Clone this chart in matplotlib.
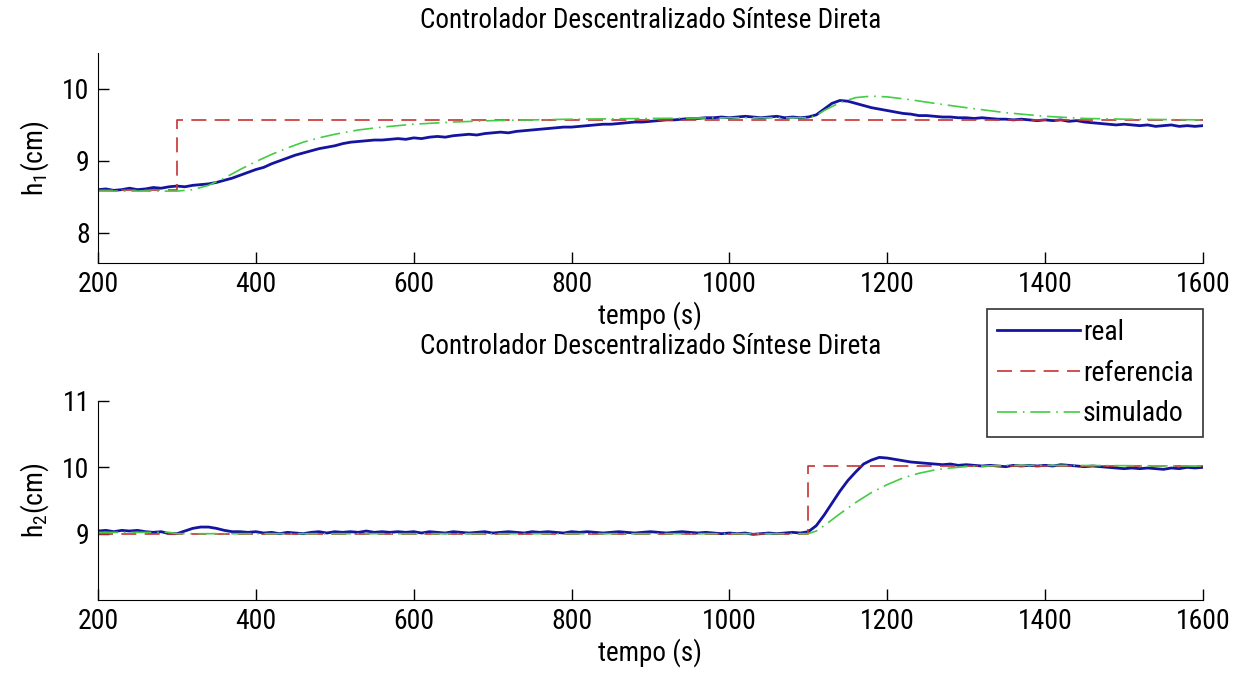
import numpy as np
import matplotlib
matplotlib.use("Agg")
import matplotlib.pyplot as plt
from matplotlib import font_manager

## fonte estreita se existir, senao Liberation Sans (metricas de Arial)
instaladas = {f.name for f in font_manager.fontManager.ttflist}
fonte = 'Liberation Sans'
for nome in ['Liberation Sans Narrow', 'Roboto Condensed', 'Open Sans Condensed']:
    if nome in instaladas:
        fonte = nome
        break
estreita = fonte != 'Liberation Sans'

plt.rcParams['font.family'] = [fonte, 'DejaVu Sans']
plt.rcParams['mathtext.fontset'] = 'custom'
plt.rcParams['mathtext.rm'] = fonte

titulo = "Controlador Descentralizado Síntese Direta"

## tempo das medidas (s), uma a cada 10 s
t_real = np.arange(200, 1601, 10)

## ---- tanque 1 ----
h1_real = [8.60, 8.61, 8.59, 8.60, 8.62, 8.60, 8.61, 8.63, 8.62, 8.64,
           8.65, 8.64, 8.66, 8.67, 8.68, 8.70, 8.73, 8.76, 8.80, 8.84,
           8.88, 8.91, 8.96, 9.00, 9.04, 9.08, 9.11, 9.14, 9.17, 9.19,
           9.21, 9.24, 9.26, 9.27, 9.28, 9.29, 9.29, 9.30, 9.31, 9.30,
           9.32, 9.31, 9.33, 9.34, 9.33, 9.35, 9.36, 9.37, 9.36, 9.38,
           9.39, 9.40, 9.39, 9.41, 9.42, 9.43, 9.44, 9.45, 9.46, 9.47,
           9.47, 9.48, 9.49, 9.50, 9.51, 9.51, 9.52, 9.53, 9.54, 9.54,
           9.55, 9.56, 9.57, 9.57, 9.58, 9.59, 9.59, 9.60, 9.60, 9.61,
           9.60, 9.61, 9.62, 9.61, 9.60, 9.61, 9.62, 9.60, 9.61, 9.60,
           9.61, 9.64, 9.72, 9.80, 9.84, 9.83, 9.80, 9.77, 9.74, 9.72,
           9.70, 9.68, 9.66, 9.65, 9.63, 9.63, 9.62, 9.61, 9.61, 9.60,
           9.60, 9.59, 9.60, 9.59, 9.58, 9.58, 9.57, 9.58, 9.57, 9.56,
           9.57, 9.56, 9.57, 9.55, 9.56, 9.54, 9.53, 9.52, 9.51, 9.50,
           9.51, 9.50, 9.49, 9.50, 9.48, 9.49, 9.50, 9.48, 9.49, 9.48,
           9.49]

t1_sim = [200, 300, 320, 340, 360, 380, 400, 420, 440, 460, 480, 500, 530, 560,
          600, 650, 700, 800, 900, 1000, 1100, 1110, 1120, 1140, 1160, 1180,
          1200, 1230, 1260, 1300, 1350, 1400, 1450, 1500, 1600]
h1_sim = [8.58, 8.58, 8.60, 8.66, 8.76, 8.88, 8.99, 9.09, 9.18, 9.26, 9.32, 9.37, 9.43, 9.47,
          9.51, 9.54, 9.56, 9.58, 9.59, 9.60, 9.60, 9.63, 9.70, 9.81, 9.88, 9.90,
          9.89, 9.85, 9.80, 9.74, 9.67, 9.62, 9.59, 9.58, 9.57]

t1_ref = [200, 300, 300, 1600]
h1_ref = [8.60, 8.60, 9.57, 9.57]

## ---- tanque 2 ----
h2_real = [9.04, 9.05, 9.03, 9.05, 9.04, 9.05, 9.03, 9.02, 9.03, 9.00,
           9.00, 9.04, 9.08, 9.10, 9.10, 9.08, 9.05, 9.03, 9.03, 9.02,
           9.03, 9.01, 9.02, 9.00, 9.02, 9.01, 9.00, 9.02, 9.03, 9.01,
           9.03, 9.02, 9.03, 9.02, 9.04, 9.02, 9.03, 9.02, 9.03, 9.02,
           9.03, 9.01, 9.03, 9.02, 9.01, 9.03, 9.02, 9.01, 9.02, 9.03,
           9.01, 9.02, 9.03, 9.02, 9.01, 9.03, 9.02, 9.03, 9.02, 9.01,
           9.03, 9.02, 9.03, 9.02, 9.01, 9.02, 9.03, 9.02, 9.01, 9.02,
           9.03, 9.02, 9.01, 9.02, 9.03, 9.02, 9.01, 9.02, 9.01, 9.00,
           9.01, 9.00, 9.01, 8.99, 9.00, 9.01, 9.00, 9.01, 9.02, 9.01,
           9.03, 9.12, 9.28, 9.46, 9.64, 9.80, 9.93, 10.05, 10.11, 10.15,
           10.14, 10.12, 10.10, 10.08, 10.07, 10.06, 10.05, 10.04, 10.05, 10.03,
           10.04, 10.03, 10.02, 10.03, 10.02, 10.01, 10.03, 10.02, 10.03, 10.02,
           10.03, 10.02, 10.04, 10.03, 10.02, 10.01, 10.02, 10.01, 10.00, 9.99,
           9.98, 9.99, 9.98, 9.99, 9.98, 9.97, 9.99, 9.98, 10.00, 9.99,
           10.00]

t2_sim = [200, 290, 300, 1100, 1110, 1120, 1140, 1160, 1180, 1200, 1220, 1240,
          1260, 1280, 1300, 1350, 1400, 1600]
h2_sim = [9.02, 9.02, 9.00, 9.00, 9.04, 9.12, 9.30, 9.47, 9.62, 9.74, 9.84, 9.91,
          9.96, 9.99, 10.01, 10.03, 10.03, 10.02]

t2_ref = [200, 1100, 1100, 1600]
h2_ref = [9.00, 9.00, 10.02, 10.02]

cor_real = '#1414a0'
cor_ref = '#c83232'
cor_sim = '#44cc44'

## tamanhos de fonte (maiores se a fonte for estreita)
tam_tick = 20 if estreita else 17
tam_tit = 19.5 if estreita else 16
tam_leg = 20 if estreita else 17

fig = plt.figure(figsize=(12.39, 6.77), dpi=100, facecolor='w')
ax1 = fig.add_axes([0.0791, 0.6115, 0.8918, 0.3102])
ax2 = fig.add_axes([0.0791, 0.1137, 0.8918, 0.2940])


def desenha(ax, t_sim, sim, t_ref, ref, real, ylab, ylim, yticks, pad_tit):
    l1, = ax.plot(t_real, real, color=cor_real, lw=2.0, label='real')
    l2, = ax.plot(t_ref, ref, color=cor_ref, lw=1.2, label='referencia')
    l2.set_dashes((9, 5))
    l3, = ax.plot(t_sim, sim, color=cor_sim, lw=1.2, label='simulado')
    l3.set_dashes((12, 3.5, 1, 3.5))
    ax.set_xlim(200, 1600)
    ax.set_ylim(*ylim)
    ax.set_xticks(range(200, 1601, 200))
    ax.set_yticks(yticks)
    ax.spines['top'].set_visible(False)
    ax.spines['right'].set_visible(False)
    ax.tick_params(direction='in', length=8, width=1, labelsize=tam_tick, pad=6)
    ax.set_title(titulo, fontsize=tam_tit, pad=pad_tit)
    ax.set_xlabel('tempo (s)', fontsize=tam_tit, labelpad=2)
    ax.set_ylabel(ylab, fontsize=tam_tick, labelpad=8)
    return [l1, l2, l3]


linhas = desenha(ax1, t1_sim, h1_sim, t1_ref, h1_ref, h1_real,
                 r'h$_{\mathregular{1}}$(cm)', (7.58, 10.5), [8, 9, 10], 18)
desenha(ax2, t2_sim, h2_sim, t2_ref, h2_ref, h2_real,
        r'h$_{\mathregular{2}}$(cm)', (8, 11), [9, 10, 11], 34)

leg = fig.legend(handles=linhas, loc='upper right', bbox_to_anchor=(0.971, 0.5436),
                 fontsize=tam_leg, frameon=True, fancybox=False, edgecolor='k',
                 handlelength=3.0, handletextpad=0.1, borderaxespad=0,
                 labelspacing=0.5, borderpad=0.35)
leg.get_frame().set_linewidth(1.2)

fig.savefig("out.png", dpi=100)
